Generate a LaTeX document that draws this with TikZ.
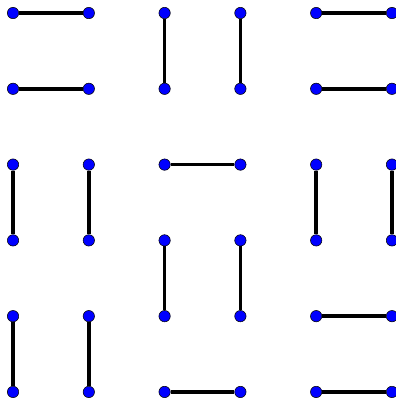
\documentclass[tikz,border=0pt]{standalone}
\usepackage{tikz}

\begin{document}
\begin{tikzpicture}[x=1cm,y=1cm,
    dot/.style={circle,fill=blue,draw=black,line width=.2pt,inner sep=0pt,minimum size=.15cm},
    edge/.style={line width=1.3pt,black}]
      \useasboundingbox (-.172,-.093) rectangle (5.053,5.172);
      % vertices: v-column-row, row 1 at the top
      \foreach \c in {1,...,6}
        \foreach \r in {1,...,6}
          \node[dot] (v-\c-\r) at ({\c-1},{6-\r}) {};
      % left ladder
      \draw[edge] (v-1-1) -- (v-2-1);
      \draw[edge] (v-1-2) -- (v-2-2);
      \draw[edge] (v-1-3) -- (v-1-4);
      \draw[edge] (v-2-3) -- (v-2-4);
      \draw[edge] (v-1-5) -- (v-1-6);
      \draw[edge] (v-2-5) -- (v-2-6);
      % middle ladder
      \draw[edge] (v-3-1) -- (v-3-2);
      \draw[edge] (v-4-1) -- (v-4-2);
      \draw[edge] (v-3-3) -- (v-4-3);
      \draw[edge] (v-3-4) -- (v-3-5);
      \draw[edge] (v-4-4) -- (v-4-5);
      \draw[edge] (v-3-6) -- (v-4-6);
      % right ladder
      \draw[edge] (v-5-1) -- (v-6-1);
      \draw[edge] (v-5-2) -- (v-6-2);
      \draw[edge] (v-5-3) -- (v-5-4);
      \draw[edge] (v-6-3) -- (v-6-4);
      \draw[edge] (v-5-5) -- (v-6-5);
      \draw[edge] (v-5-6) -- (v-6-6);
    \end{tikzpicture}
\end{document}
